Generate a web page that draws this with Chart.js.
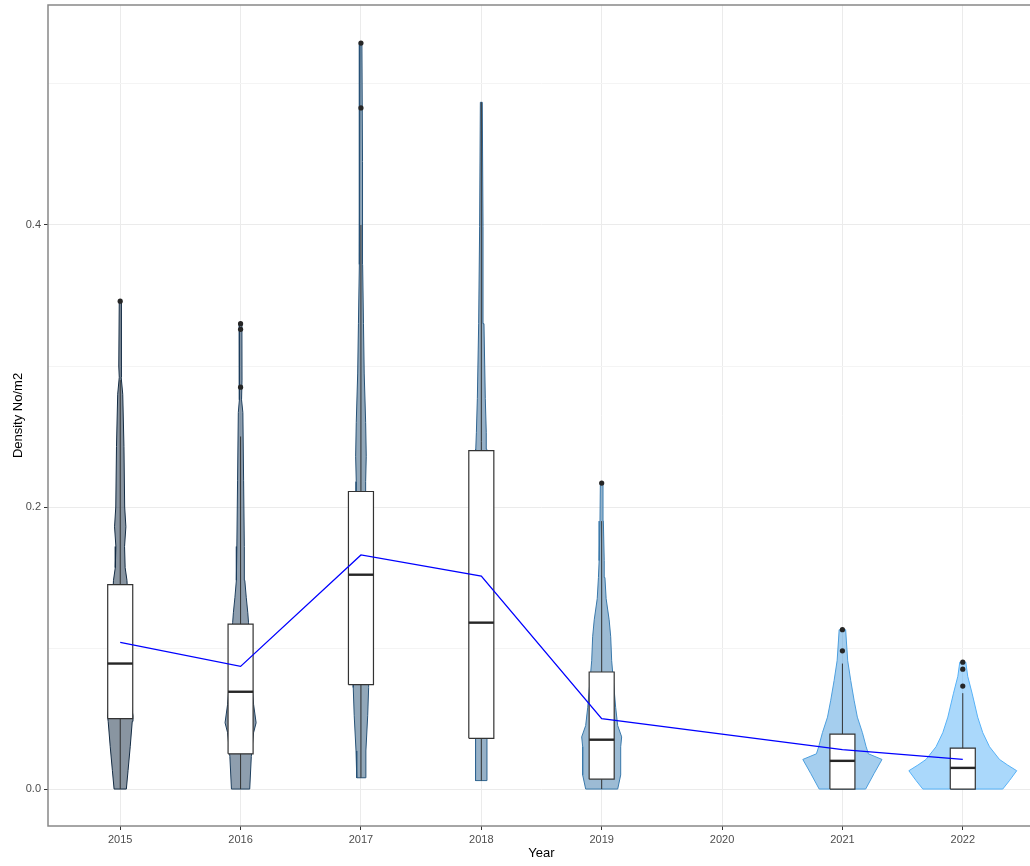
<!DOCTYPE html>
<html>
<head>
<meta charset="utf-8">
<script src="https://cdn.jsdelivr.net/npm/chart.js@4.4.1/dist/chart.umd.min.js"></script>
<style>
  html, body { margin: 0; padding: 0; background: #fff; overflow: hidden; }
  #wrap { width: 1040px; height: 866px; }
</style>
</head>
<body>
<div id="wrap"><canvas id="chart" width="1040" height="866"></canvas></div>
<script>
// ===============================
// DATA
// ===============================
const years = [2015, 2016, 2017, 2018, 2019, 2021, 2022];
const xTickYears = [2015, 2016, 2017, 2018, 2019, 2020, 2021, 2022];
const yTickValues = [0, 0.1, 0.2, 0.3, 0.4, 0.5];
const yLabelValues = [0, 0.2, 0.4];

// mean density per year (blue line)
const meanDensity = [0.104, 0.087, 0.166, 0.151, 0.050, 0.028, 0.021];

// boxplot stats
const q1 = [0.050, 0.025, 0.074, 0.036, 0.007, 0.000, 0.000];
const median = [0.089, 0.069, 0.152, 0.118, 0.035, 0.020, 0.015];
const q3 = [0.145, 0.117, 0.211, 0.240, 0.083, 0.039, 0.029];
const whiskerLow = [0.000, 0.000, 0.008, 0.006, 0.000, 0.000, 0.000];
const whiskerHigh = [0.290, 0.250, 0.400, 0.487, 0.190, 0.089, 0.068];

// outliers
const outlierYears = [2015, 2016, 2016, 2016, 2017, 2017, 2019, 2021, 2021, 2022, 2022, 2022];
const outlierValues = [0.346, 0.330, 0.326, 0.285, 0.529, 0.483, 0.217, 0.113, 0.098, 0.090, 0.085, 0.073];

// violin outlines: density level (Y) and half width in years (W)
const violin2015Y = [0.000, 0.013, 0.030, 0.048, 0.052, 0.060, 0.090, 0.130, 0.148, 0.157, 0.172, 0.186, 0.200, 0.243, 0.280, 0.292, 0.300, 0.346];
const violin2015W = [0.051, 0.065, 0.083, 0.100, 0.106, 0.091, 0.083, 0.066, 0.056, 0.041, 0.036, 0.047, 0.037, 0.031, 0.021, 0.008, 0.012, 0.008];

const violin2016Y = [0.000, 0.023, 0.040, 0.047, 0.060, 0.090, 0.118, 0.125, 0.136, 0.148, 0.172, 0.219, 0.267, 0.276, 0.290, 0.330];
const violin2016W = [0.076, 0.089, 0.108, 0.129, 0.108, 0.083, 0.066, 0.060, 0.047, 0.035, 0.031, 0.025, 0.019, 0.008, 0.012, 0.011];

const violin2017Y = [0.008, 0.027, 0.052, 0.072, 0.120, 0.200, 0.218, 0.236, 0.260, 0.295, 0.330, 0.372, 0.399, 0.445, 0.529];
const violin2017W = [0.035, 0.041, 0.056, 0.064, 0.058, 0.041, 0.039, 0.044, 0.039, 0.027, 0.021, 0.014, 0.014, 0.012, 0.008];

const violin2018Y = [0.006, 0.037, 0.100, 0.241, 0.253, 0.277, 0.330, 0.399, 0.487];
const violin2018W = [0.047, 0.047, 0.050, 0.046, 0.041, 0.033, 0.022, 0.014, 0.008];

const violin2019Y = [0.000, 0.010, 0.030, 0.037, 0.045, 0.058, 0.083, 0.091, 0.108, 0.120, 0.135, 0.150, 0.162, 0.190, 0.217];
const violin2019W = [0.133, 0.158, 0.158, 0.166, 0.133, 0.116, 0.091, 0.083, 0.075, 0.062, 0.037, 0.027, 0.021, 0.014, 0.011];

const violin2021Y = [0.000, 0.011, 0.021, 0.025, 0.030, 0.040, 0.051, 0.063, 0.077, 0.091, 0.105, 0.113];
const violin2021W = [0.193, 0.263, 0.329, 0.216, 0.197, 0.166, 0.124, 0.097, 0.069, 0.044, 0.033, 0.027];

const violin2022Y = [0.000, 0.006, 0.013, 0.017, 0.021, 0.030, 0.040, 0.051, 0.068, 0.080, 0.090];
const violin2022W = [0.332, 0.388, 0.448, 0.373, 0.305, 0.222, 0.166, 0.124, 0.077, 0.041, 0.025];

const violinY = [violin2015Y, violin2016Y, violin2017Y, violin2018Y, violin2019Y, violin2021Y, violin2022Y];
const violinW = [violin2015W, violin2016W, violin2017W, violin2018W, violin2019W, violin2021W, violin2022W];


// ===============================
// STYLE HELPERS
// ===============================
Chart.defaults.font.family = "'Liberation Sans', Arial, sans-serif";

const lowColor = [19, 43, 67];     // #132B43
const highColor = [86, 177, 247];  // #56B1F7
const boxHalf = 0.104;

function yearColor(yr, alpha) {
  const t = (yr - 2015) / 7;
  const c = lowColor.map((v, i) => Math.round(v + (highColor[i] - v) * t));
  return `rgba(${c[0]},${c[1]},${c[2]},${alpha})`;
}


// ===============================
// DATASETS
// ===============================
const datasets = [];

// mean line (on top)
datasets.push({
  data: years.map((yr, i) => ({ x: yr, y: meanDensity[i] })),
  borderColor: "#0000ff",
  borderWidth: 1.3,
  pointRadius: 0,
  fill: false,
  order: 0
});

// outliers
datasets.push({
  data: outlierYears.map((yr, i) => ({ x: yr, y: outlierValues[i] })),
  showLine: false,
  pointRadius: 2.6,
  pointBackgroundColor: "#262626",
  pointBorderColor: "#262626",
  pointBorderWidth: 0,
  order: 1
});

years.forEach((yr, i) => {
  // median
  datasets.push({
    data: [{ x: yr - boxHalf, y: median[i] }, { x: yr + boxHalf, y: median[i] }],
    borderColor: "#262626",
    borderWidth: 2.4,
    pointRadius: 0,
    fill: false,
    order: 2
  });

  // box
  datasets.push({
    data: [
      { x: yr - boxHalf, y: q1[i] },
      { x: yr + boxHalf, y: q1[i] },
      { x: yr + boxHalf, y: q3[i] },
      { x: yr - boxHalf, y: q3[i] },
      { x: yr - boxHalf, y: q1[i] }
    ],
    borderColor: "#333333",
    borderWidth: 1.2,
    backgroundColor: "#ffffff",
    pointRadius: 0,
    fill: "shape",
    order: 3
  });

  // whisker
  datasets.push({
    data: [{ x: yr, y: whiskerLow[i] }, { x: yr, y: whiskerHigh[i] }],
    borderColor: "#333333",
    borderWidth: 1,
    pointRadius: 0,
    fill: false,
    order: 4
  });

  // violin
  const ys = violinY[i];
  const ws = violinW[i];
  const pts = [];
  ys.forEach((v, k) => pts.push({ x: yr + ws[k], y: v }));
  for (let k = ys.length - 1; k >= 0; k--) pts.push({ x: yr - ws[k], y: ys[k] });
  pts.push(pts[0]);
  datasets.push({
    data: pts,
    borderColor: yearColor(yr, 1),
    borderWidth: 1,
    backgroundColor: yearColor(yr, 0.5),
    pointRadius: 0,
    fill: "shape",
    order: 5
  });
});


// ===============================
// PANEL BORDER
// ===============================
const panelBorder = {
  id: "panelBorder",
  afterDatasetsDraw(chart) {
    const { ctx, chartArea: a } = chart;
    ctx.save();
    ctx.strokeStyle = "#888888";
    ctx.lineWidth = 1.5;
    ctx.strokeRect(a.left, a.top, a.right - a.left, a.bottom - a.top);
    ctx.restore();
  }
};


// ===============================
// CHART
// ===============================
new Chart(document.getElementById("chart"), {
  type: "line",
  data: { datasets },
  plugins: [panelBorder],
  options: {
    responsive: false,
    animation: false,
    layout: { padding: { top: 5, right: 5, left: 0, bottom: 0 } },
    elements: { line: { tension: 0 } },
    plugins: {
      legend: { display: false },
      tooltip: { enabled: false }
    },
    scales: {
      x: {
        type: "linear",
        min: 2014.4,
        max: 2022.6,
        afterBuildTicks: s => { s.ticks = xTickYears.map(v => ({ value: v })); },
        afterFit: s => { s.height = 40; s.paddingLeft = 0; s.paddingRight = 0; },
        border: { display: false },
        grid: { color: "#ebebeb", lineWidth: 1, tickColor: "#333333", tickLength: 4 },
        ticks: {
          color: "#4d4d4d",
          font: { size: 11 },
          padding: 3,
          maxRotation: 0,
          autoSkip: false,
          callback: v => String(v)
        },
        title: {
          display: true,
          text: "Year",
          color: "#000000",
          font: { size: 13 },
          padding: { top: 0, bottom: 5 }
        }
      },
      y: {
        min: -0.0262,
        max: 0.556,
        afterBuildTicks: s => { s.ticks = yTickValues.map(v => ({ value: v })); },
        afterFit: s => { s.width = 48; s.paddingTop = 0; s.paddingBottom = 0; },
        border: { display: false },
        grid: {
          color: c => yLabelValues.includes(c.tick.value) ? "#ebebeb" : "#f4f4f4",
          lineWidth: 1,
          tickColor: c => yLabelValues.includes(c.tick.value) ? "#333333" : "rgba(0,0,0,0)",
          tickLength: 4
        },
        ticks: {
          color: "#4d4d4d",
          font: { size: 11 },
          padding: 3,
          callback: v => yLabelValues.includes(v) ? v.toFixed(1) : ""
        },
        title: {
          display: true,
          text: "Density No/m2",
          color: "#000000",
          font: { size: 13 },
          padding: { top: 11, bottom: 0 }
        }
      }
    }
  }
});
</script>
</body>
</html>
